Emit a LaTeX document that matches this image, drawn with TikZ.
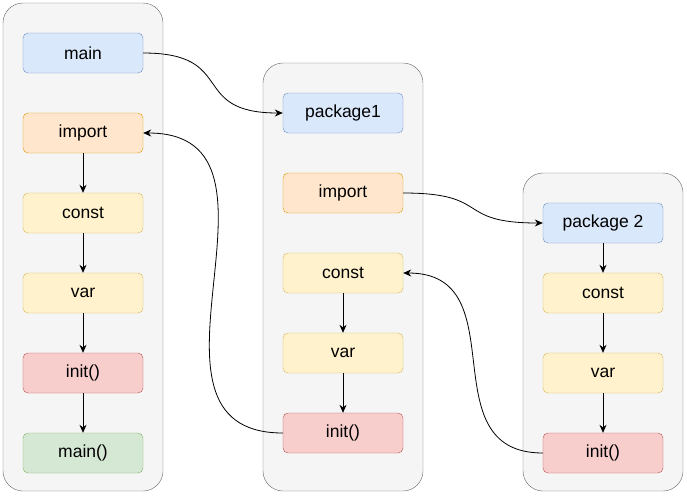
\documentclass[tikz,border=0pt]{standalone}
\usepackage{fontspec}
\setmainfont{Liberation Sans}
\usetikzlibrary{arrows.meta}

\definecolor{boxfill}{HTML}{F5F5F5}
\definecolor{boxline}{HTML}{666666}
\definecolor{bluefill}{HTML}{DAE8FC}
\definecolor{blueline}{HTML}{6C8EBF}
\definecolor{orangefill}{HTML}{FFE6CC}
\definecolor{orangeline}{HTML}{D79B00}
\definecolor{yellowfill}{HTML}{FFF2CC}
\definecolor{yellowline}{HTML}{D6B656}
\definecolor{redfill}{HTML}{F8CECC}
\definecolor{redline}{HTML}{B85450}
\definecolor{greenfill}{HTML}{D5E8D4}
\definecolor{greenline}{HTML}{82B366}

\tikzset{
  stage/.style={draw, rounded corners=5pt, minimum width=120pt,
    minimum height=40pt, inner sep=0pt, font=\fontsize{17.5}{20}\selectfont},
  bluestage/.style={stage, fill=bluefill, draw=blueline},
  orangestage/.style={stage, fill=orangefill, draw=orangeline},
  yellowstage/.style={stage, fill=yellowfill, draw=yellowline},
  redstage/.style={stage, fill=redfill, draw=redline},
  greenstage/.style={stage, fill=greenfill, draw=greenline},
  pkgbox/.style={fill=boxfill, draw=boxline, rounded corners=20pt},
  flow/.style={-{Stealth[length=8pt,width=7pt]}, line width=0.8pt}
}

\begin{document}
\begin{tikzpicture}[x=1pt,y=-1pt]
  \useasboundingbox (0,0) rectangle (687,496);

  % package containers
  \draw[pkgbox] (3,3) rectangle (163,491);
  \draw[pkgbox] (263,63) rectangle (423,491);
  \draw[pkgbox] (523,173) rectangle (683,491);

  % main package
  \node[bluestage]   (mainpkg) at (83,53)  {main};
  \node[orangestage] (imp1)    at (83,133) {import};
  \node[yellowstage] (const1)  at (83,213) {const};
  \node[yellowstage] (var1)    at (83,293) {var};
  \node[redstage]    (init1)   at (83,373) {init()};
  \node[greenstage]  (mainfn)  at (83,453) {main()};

  % package1
  \node[bluestage]   (pkg1)   at (343,113) {package1};
  \node[orangestage] (imp2)   at (343,193) {import};
  \node[yellowstage] (const2) at (343,273) {const};
  \node[yellowstage] (var2)   at (343,353) {var};
  \node[redstage]    (init2)  at (343,433) {init()};

  % package 2
  \node[bluestage]   (pkg2)   at (603,223) {package 2};
  \node[yellowstage] (const3) at (603,293) {const};
  \node[yellowstage] (var3)   at (603,373) {var};
  \node[redstage]    (init3)  at (603,453) {init()};

  \foreach \a/\b in {imp1/const1, const1/var1, var1/init1, init1/mainfn,
                     const2/var2, var2/init2,
                     pkg2/const3, const3/var3, var3/init3}
    \draw[flow] (\a) -- (\b);

  \draw[flow] (mainpkg.east) to[out=0, in=180, looseness=1.6] (pkg1.west);
  \draw[flow] (imp2.east) to[out=0, in=180, looseness=1.6] (pkg2.west);
  \draw[flow] (init2.west) to[out=180, in=0, looseness=1.3] (imp1.east);
  \draw[flow] (init3.west) to[out=180, in=0, looseness=1.3] (const2.east);
\end{tikzpicture}
\end{document}
